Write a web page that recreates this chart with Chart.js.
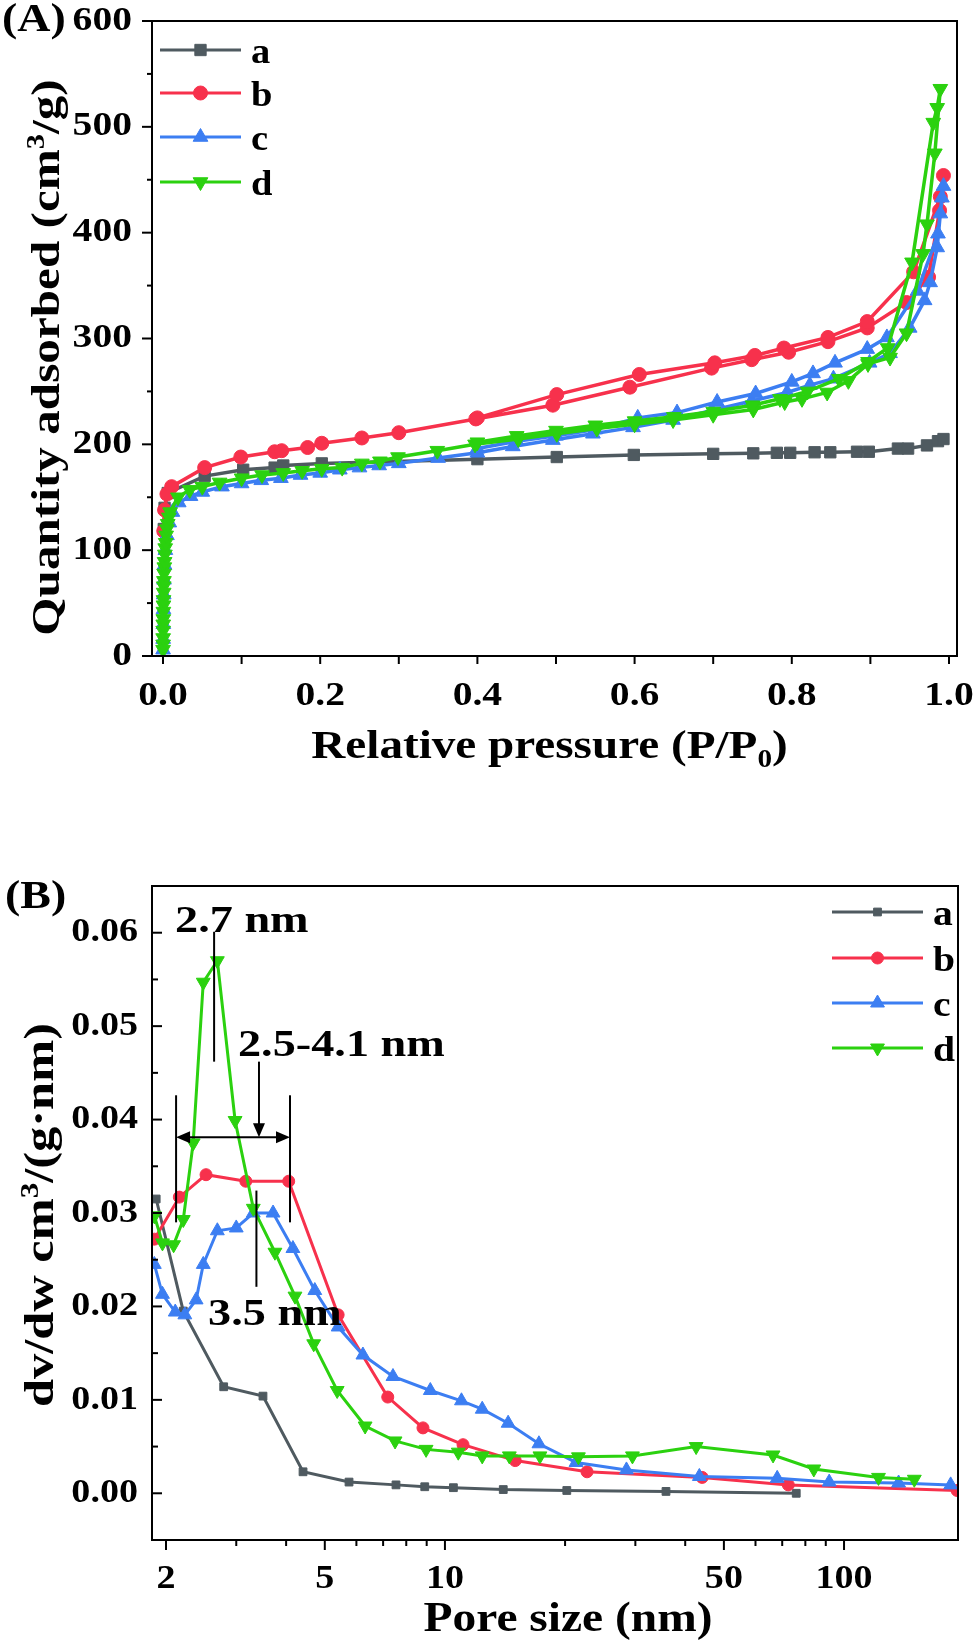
<!DOCTYPE html>
<html>
<head>
<meta charset="utf-8">
<script src="https://cdn.jsdelivr.net/npm/chart.js@4.4.0/dist/chart.umd.min.js"></script>
<style>
  html, body { margin: 0; padding: 0; background: #fff; }
  #chartA { position: absolute; left: 0; top: 0; }
  #chartB { position: absolute; left: 0; top: 790px; }
</style>
</head>
<body>
<canvas id="chartA" width="975" height="790"></canvas>
<canvas id="chartB" width="975" height="857"></canvas>
<script>
// === (A) N2 isotherms: relative pressure vs quantity adsorbed ===
const aP = [0.001, 0.002, 0.006, 0.053, 0.102, 0.142, 0.153, 0.202, 0.40, 0.501, 0.599, 0.700, 0.751, 0.781, 0.798, 0.829, 0.849, 0.883, 0.898, 0.935, 0.948, 0.972, 0.986, 0.993];
const aQ = [120, 140, 154, 170, 176, 178, 180, 182, 186, 188, 190, 191, 191.5, 192, 192, 192.5, 192.5, 193, 193, 196, 196, 199, 203, 205];

const bP = [0.001, 0.002, 0.005, 0.011, 0.053, 0.099, 0.142, 0.151, 0.184, 0.202, 0.253, 0.300, 0.398, 0.496, 0.594, 0.698, 0.749, 0.796, 0.846, 0.896, 0.946, 0.974, 0.988, 0.993, 0.989, 0.955, 0.896, 0.846, 0.790, 0.753, 0.702, 0.606, 0.501, 0.400];
const bQ = [118, 138, 153, 160, 178, 188, 193, 194, 197, 201, 206, 211, 224, 237, 254, 272, 280, 287, 297, 310, 334, 358, 421, 454, 434, 363, 316, 301, 291, 284, 277, 266, 247, 225];

const cP = [0.0001, 0.0002, 0.0004, 0.0006, 0.0009, 0.0013, 0.002, 0.003, 0.005, 0.008, 0.012, 0.02, 0.035, 0.05, 0.075, 0.1, 0.125, 0.15, 0.175, 0.2, 0.225, 0.25, 0.275, 0.3, 0.35, 0.4, 0.445, 0.496, 0.547, 0.598, 0.649, 0.698, 0.749, 0.794, 0.823, 0.853, 0.899, 0.925, 0.95, 0.969, 0.976, 0.985, 0.989, 0.993, 0.991, 0.986, 0.96, 0.921, 0.896, 0.855, 0.827, 0.80, 0.754, 0.705, 0.654, 0.604, 0.55, 0.5, 0.45, 0.4];
const cQ = [6, 16, 30, 44, 58, 72, 86, 100, 114, 126, 136, 145, 151, 155, 160, 163, 166, 168, 171, 173, 176, 178, 180, 182, 187, 192, 198, 204, 210, 216, 223, 232, 241, 249, 256, 262, 277, 286, 310, 336, 353, 386, 418, 444, 433, 399, 345, 301, 290, 277, 267, 259, 248, 240, 230, 225, 214, 208, 203, 196];

const dP = [0.0001, 0.00015, 0.0002, 0.00025, 0.0003, 0.0004, 0.0005, 0.0006, 0.0007, 0.00085, 0.001, 0.0012, 0.0014, 0.0017, 0.002, 0.0024, 0.0028, 0.0034, 0.004, 0.005, 0.006, 0.0075, 0.009, 0.019, 0.034, 0.05, 0.072, 0.1, 0.126, 0.153, 0.177, 0.202, 0.228, 0.253, 0.276, 0.299, 0.349, 0.397, 0.452, 0.501, 0.552, 0.60, 0.649, 0.70, 0.751, 0.791, 0.813, 0.845, 0.872, 0.897, 0.925, 0.946, 0.967, 0.972, 0.982, 0.989, 0.985, 0.98, 0.953, 0.922, 0.897, 0.86, 0.82, 0.785, 0.75, 0.7, 0.65, 0.6, 0.55, 0.5, 0.45, 0.4];
const dQ = [6, 11, 17, 24, 30, 35, 42, 48, 53, 60, 66, 71, 78, 84, 89, 96, 102, 107, 114, 120, 125, 131, 136, 150, 157, 160, 164, 168, 171, 173, 175, 177, 178, 182, 184, 188, 194, 200, 205, 210, 215, 219, 223, 228, 233, 240, 243, 249, 260, 276, 282, 305, 380, 408, 475, 536, 518, 504, 372, 291, 278, 262, 250, 243, 237, 231, 226, 222, 218, 213, 208, 202];

// === (B) pore size distribution ===
const aSize = [1.89, 2.21, 2.79, 3.50, 4.41, 5.75, 7.54, 8.9, 10.5, 14.0, 20.2, 35.8, 75.9];
const aDv = [0.0315, 0.0195, 0.0114, 0.0104, 0.0023, 0.0012, 0.0009, 0.0007, 0.0006, 0.0004, 0.0003, 0.0002, 0.0000];

const bSize = [1.87, 2.16, 2.52, 3.17, 4.06, 5.40, 7.19, 8.81, 11.1, 15.0, 22.7, 44.1, 72.5, 192];
const bDv = [0.0272, 0.0317, 0.0341, 0.0334, 0.0334, 0.0191, 0.0103, 0.0070, 0.0052, 0.0035, 0.0023, 0.0017, 0.0009, 0.0003];

const cSize = [1.87, 1.96, 2.11, 2.23, 2.38, 2.48, 2.69, 3.00, 3.31, 3.71, 4.16, 4.72, 5.40, 6.23, 7.41, 9.19, 11.0, 12.4, 14.4, 17.2, 21.3, 28.5, 43.4, 68, 91.8, 137, 185];
const cDv = [0.0245, 0.0213, 0.0194, 0.0191, 0.0207, 0.0245, 0.0281, 0.0284, 0.0300, 0.0300, 0.0262, 0.0217, 0.0178, 0.0148, 0.0125, 0.0110, 0.0099, 0.0090, 0.0075, 0.0053, 0.0033, 0.0025, 0.0018, 0.0016, 0.0012, 0.0011, 0.0009];

const dSize = [1.87, 1.96, 2.09, 2.21, 2.34, 2.48, 2.69, 2.98, 3.31, 3.75, 4.21, 4.69, 5.37, 6.31, 7.50, 8.97, 10.8, 12.4, 14.5, 17.3, 21.6, 29.5, 42.6, 66.4, 84, 122, 150];
const dDv = [0.0297, 0.0268, 0.0266, 0.0293, 0.0375, 0.0547, 0.0570, 0.0399, 0.0305, 0.0258, 0.0211, 0.0160, 0.0110, 0.0072, 0.0056, 0.0047, 0.0044, 0.0040, 0.0040, 0.0040, 0.0039, 0.0040, 0.0050, 0.0041, 0.0026, 0.0017, 0.0015];

const seriesNames = ["a", "b", "c", "d"];
const seriesColors = ["#4F5A60", "#F7314C", "#3C7EF2", "#2BD10F"];
const seriesStyles = ["rect", "circle", "triangle", "triangle"];
const seriesRotation = [0, 0, 0, 180];

// Axis ticks
const xMajorA = [0, 0.2, 0.4, 0.6, 0.8, 1.0];
const xMinorA = [0.1, 0.3, 0.5, 0.7, 0.9];
const yMajorA = [0, 100, 200, 300, 400, 500, 600];
const yMinorA = [50, 150, 250, 350, 450, 550];
const xMajorB = [2, 5, 10, 50, 100];
const xMinorB = [3, 4, 6, 7, 8, 9, 20, 30, 40, 60, 70, 80, 90];
const yMajorB = [0, 0.01, 0.02, 0.03, 0.04, 0.05, 0.06];
const yMinorB = [0.005, 0.015, 0.025, 0.035, 0.045, 0.055];

const FONT = "'Liberation Serif', 'Times New Roman', serif";

function pts(xs, ys) {
  return xs.map((x, i) => ({ x, y: ys[i] }));
}

function makeSets(xsList, ysList, r, lw) {
  return xsList.map((xs, i) => ({
    label: seriesNames[i],
    data: pts(xs, ysList[i]),
    showLine: true,
    borderColor: seriesColors[i],
    backgroundColor: seriesColors[i],
    borderWidth: lw,
    pointStyle: seriesStyles[i],
    pointRotation: seriesRotation[i],
    pointRadius: r[i],
    pointBorderWidth: 1,
    order: 4 - i,
  }));
}

// stretched bold text, with optional super/subscript parts
function richText(ctx, parts, x, y, size, sx, opts = {}) {
  const fontOf = s => `bold ${s}px ${FONT}`;
  ctx.save();
  ctx.translate(x, y);
  if (opts.rot) ctx.rotate(opts.rot);
  ctx.scale(sx, 1);
  ctx.fillStyle = "#000";
  ctx.textBaseline = opts.baseline || "alphabetic";
  ctx.textAlign = "left";
  let total = 0;
  parts.forEach(p => {
    ctx.font = fontOf(p.sup || p.sub ? size * 0.62 : size);
    total += ctx.measureText(p.t).width;
  });
  let cx = opts.align === "left" ? 0 : opts.align === "right" ? -total : -total / 2;
  parts.forEach(p => {
    const s = p.sup || p.sub ? size * 0.62 : size;
    ctx.font = fontOf(s);
    const dy = p.sup ? -size * 0.36 : p.sub ? size * 0.22 : 0;
    ctx.fillText(p.t, cx, dy);
    cx += ctx.measureText(p.t).width;
  });
  ctx.restore();
}

function tickLines(ctx, scale, values, len, area, axis, inward) {
  values.forEach(v => {
    const p = scale.getPixelForValue(v);
    ctx.beginPath();
    if (axis === "x") {
      ctx.moveTo(p, area.bottom);
      ctx.lineTo(p, area.bottom + len);
    } else {
      const dir = inward ? 1 : -1;
      ctx.moveTo(area.left, p);
      ctx.lineTo(area.left + dir * len, p);
    }
    ctx.stroke();
  });
}

function drawLegend(chart, lg) {
  const ctx = chart.ctx;
  chart.data.datasets.forEach((ds, i) => {
    const y = lg.rows[i];
    ctx.save();
    ctx.strokeStyle = ds.borderColor;
    ctx.lineWidth = lg.lw;
    ctx.beginPath();
    ctx.moveTo(lg.x1, y);
    ctx.lineTo(lg.x2, y);
    ctx.stroke();
    ctx.fillStyle = ds.backgroundColor;
    ctx.strokeStyle = ds.borderColor;
    ctx.lineWidth = 1;
    Chart.helpers.drawPoint(ctx, {
      pointStyle: ds.pointStyle, rotation: ds.pointRotation, radius: ds.pointRadius, borderWidth: 1,
    }, (lg.x1 + lg.x2) / 2, y);
    ctx.restore();
    richText(ctx, [{ t: ds.label }], lg.tx, y + lg.dy, lg.size, lg.sx, { align: "left" });
  });
}

function arrowHead(ctx, x, y, dx, dy) {
  // tip at (x, y), pointing along (dx, dy)
  const L = 14, W = 6;
  const nx = -dy, ny = dx;
  ctx.beginPath();
  ctx.moveTo(x, y);
  ctx.lineTo(x - dx * L + nx * W, y - dy * L + ny * W);
  ctx.lineTo(x - dx * L - nx * W, y - dy * L - ny * W);
  ctx.closePath();
  ctx.fill();
}

const decor = {
  id: "decor",
  afterDraw(chart, args, o) {
    const { ctx, chartArea: a } = chart;
    const x = chart.scales.x, y = chart.scales.y;
    ctx.save();
    ctx.strokeStyle = "#000";
    ctx.fillStyle = "#000";
    ctx.lineWidth = 2;
    ctx.lineCap = "butt";
    tickLines(ctx, x, o.xMajor, o.xMajorLen, a, "x");
    tickLines(ctx, x, o.xMinor, o.xMinorLen, a, "x");
    tickLines(ctx, y, o.yMajor, o.yMajorLen, a, "y", o.yInward);
    tickLines(ctx, y, o.yMinor, o.yMinorLen, a, "y", o.yInward);
    ctx.strokeRect(a.left, a.top, a.right - a.left, a.bottom - a.top);
    ctx.restore();

    // tick labels
    o.yMajor.forEach(v => {
      richText(ctx, [{ t: o.yFmt(v) }], a.left - o.yLabelGap, y.getPixelForValue(v), o.tickSize, o.tickSx,
        { align: "right", baseline: "middle" });
    });
    o.xMajor.forEach(v => {
      richText(ctx, [{ t: o.xFmt(v) }], x.getPixelForValue(v), a.bottom + o.xLabelGap, o.tickSize, o.tickSx,
        { baseline: "top" });
    });

    // titles
    const cx = (a.left + a.right) / 2, cy = (a.top + a.bottom) / 2;
    richText(ctx, o.xTitle, cx + o.xTitleDx, a.bottom + o.xTitleDy, o.titleSize, o.titleSx);
    richText(ctx, o.yTitle, o.yTitleX, cy + o.yTitleDy, o.titleSize, o.yTitleSx, { rot: -Math.PI / 2 });
    richText(ctx, [{ t: o.panel }], o.panelX, o.panelY, o.panelSize, o.panelSx, { align: "left" });

    drawLegend(chart, o.legend);
    if (o.annotate) o.annotate(chart);
  },
};

// (B) annotations placed in data coordinates
function annotateB(chart) {
  const { ctx } = chart;
  const x = chart.scales.x, y = chart.scales.y;
  const X = v => x.getPixelForValue(v), Y = v => y.getPixelForValue(v);
  ctx.save();
  ctx.strokeStyle = "#000";
  ctx.fillStyle = "#000";
  ctx.lineWidth = 2;
  const seg = (x1, y1, x2, y2) => { ctx.beginPath(); ctx.moveTo(x1, y1); ctx.lineTo(x2, y2); ctx.stroke(); };
  // 2.7 nm marker
  seg(X(2.64), Y(0.0601), X(2.64), Y(0.0462));
  // 2.5-4.1 nm range
  seg(X(2.12), Y(0.0426), X(2.12), Y(0.0290));
  seg(X(4.09), Y(0.0426), X(4.09), Y(0.0290));
  seg(X(2.12) + 12, Y(0.0381), X(4.09) - 12, Y(0.0381));
  arrowHead(ctx, X(2.12), Y(0.0381), -1, 0);
  arrowHead(ctx, X(4.09), Y(0.0381), 1, 0);
  seg(X(3.42), Y(0.0462), X(3.42), Y(0.0381) - 12);
  arrowHead(ctx, X(3.42), Y(0.0381), 0, 1);
  // 3.5 nm marker
  seg(X(3.37), Y(0.0324), X(3.37), Y(0.0221));
  ctx.restore();
  richText(ctx, [{ t: "2.7 nm" }], X(2.107), Y(0.0601), 37, 1.25, { align: "left" });
  richText(ctx, [{ t: "2.5-4.1 nm" }], X(3.03), Y(0.0468), 37, 1.25, { align: "left" });
  richText(ctx, [{ t: "3.5 nm" }], X(2.55), Y(0.0180), 37, 1.25, { align: "left" });
}

new Chart(document.getElementById("chartA"), {
  type: "scatter",
  data: { datasets: makeSets([aP, bP, cP, dP], [aQ, bQ, cQ, dQ], [8, 7, 8.5, 8.5], 3.5) },
  options: {
    responsive: false,
    animation: false,
    events: [],
    layout: { padding: { left: 152, top: 21, right: 18, bottom: 134 } },
    scales: {
      x: { type: "linear", min: -0.014, max: 1.0102, display: false },
      y: { type: "linear", min: 0, max: 600, display: false },
    },
    plugins: {
      legend: { display: false },
      tooltip: { enabled: false },
      decor: {
        xMajor: xMajorA, xMinor: xMinorA, yMajor: yMajorA, yMinor: yMinorA,
        xMajorLen: 8, xMinorLen: 8, yMajorLen: 10, yMinorLen: 5, yInward: false,
        xFmt: v => v.toFixed(1), yFmt: v => String(v),
        tickSize: 33, tickSx: 1.2, yLabelGap: 20, xLabelGap: 24,
        xTitle: [{ t: "Relative pressure (P/P" }, { t: "0", sub: true }, { t: ")" }],
        yTitle: [{ t: "Quantity adsorbed (cm" }, { t: "3", sup: true }, { t: "/g)" }],
        titleSize: 41, titleSx: 1.15, yTitleSx: 1.2,
        xTitleDx: -5, xTitleDy: 102, yTitleX: 59, yTitleDy: 19,
        panel: "(A)", panelX: 2, panelY: 31, panelSize: 41, panelSx: 1.12,
        legend: { rows: [50, 93, 137, 182], x1: 160, x2: 241, tx: 251, dy: 13, size: 35, sx: 1.1, lw: 3 },
      },
    },
  },
  plugins: [decor],
});

new Chart(document.getElementById("chartB"), {
  type: "scatter",
  data: { datasets: makeSets([aSize, bSize, cSize, dSize], [aDv, bDv, cDv, dDv], [5.5, 6, 8, 8], 3) },
  options: {
    responsive: false,
    animation: false,
    events: [],
    layout: { padding: { left: 152, top: 96, right: 17, bottom: 107 } },
    scales: {
      x: { type: "logarithmic", min: 1.845, max: 193, display: false },
      y: { type: "linear", min: -0.005, max: 0.065, display: false },
    },
    plugins: {
      legend: { display: false },
      tooltip: { enabled: false },
      decor: {
        xMajor: xMajorB, xMinor: xMinorB, yMajor: yMajorB, yMinor: yMinorB,
        xMajorLen: 10, xMinorLen: 6, yMajorLen: 10, yMinorLen: 6, yInward: true,
        xFmt: v => String(v), yFmt: v => v.toFixed(2),
        tickSize: 34, tickSx: 1.12, yLabelGap: 14, xLabelGap: 22,
        xTitle: [{ t: "Pore size (nm)" }],
        yTitle: [{ t: "dv/dw cm" }, { t: "3", sup: true }, { t: "/(g\u00b7nm)" }],
        titleSize: 42, titleSx: 1.13, yTitleSx: 1.2,
        xTitleDx: 13, xTitleDy: 91, yTitleX: 53, yTitleDy: 2,
        panel: "(B)", panelX: 5, panelY: 118, panelSize: 41, panelSx: 1.12,
        legend: { rows: [122, 168, 213, 258], x1: 832, x2: 923, tx: 933, dy: 13, size: 36, sx: 1.1, lw: 3 },
        annotate: annotateB,
      },
    },
  },
  plugins: [decor],
});
</script>
</body>
</html>
